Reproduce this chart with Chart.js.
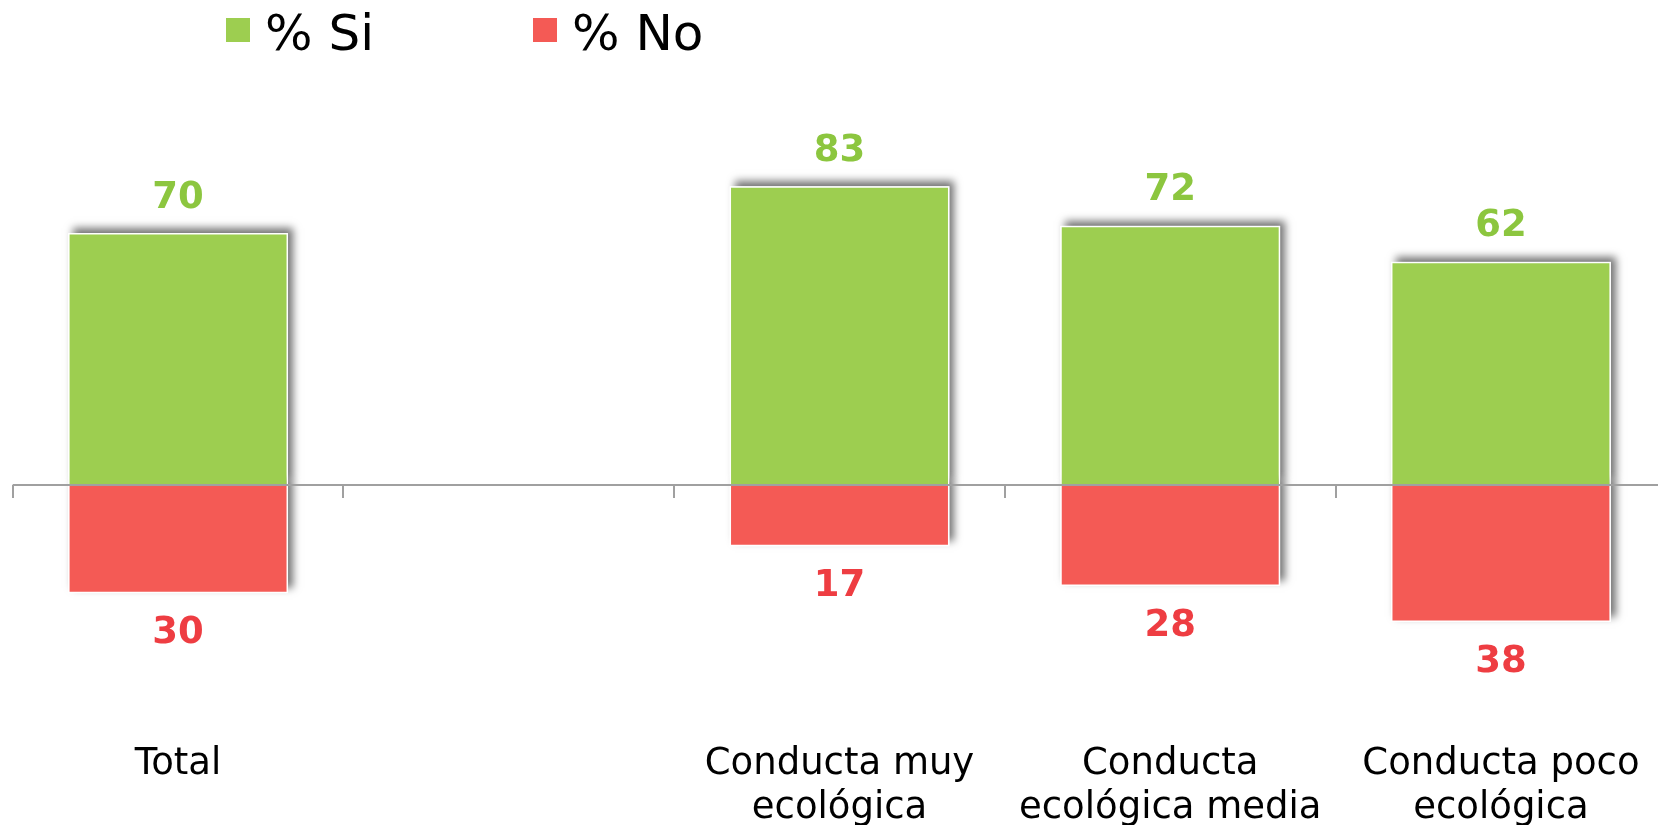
<!DOCTYPE html>
<html>
<head>
<meta charset="utf-8">
<title>Conducta ecológica</title>
<script src="https://cdn.jsdelivr.net/npm/chart.js@4.4.1/dist/chart.umd.min.js"></script>
<style>
  html, body { margin: 0; padding: 0; background: #fff; overflow: hidden; }
  #wrap { position: relative; width: 1658px; height: 825px; overflow: hidden; }
  #chart { position: absolute; left: 0; top: 0; }
  .legend-item { position: absolute; top: 4px; height: 58px; line-height: 58px;
    font-family: 'DejaVu Sans', Verdana, sans-serif; font-size: 50px; color: #000; white-space: nowrap; }
  .legend-box { position: absolute; left: 0; top: 14px; width: 24px; height: 24px; }
  .legend-text { position: absolute; left: 39px; top: 0; }
</style>
</head>
<body>
<div id="wrap">
  <canvas id="chart" width="1700" height="905"></canvas>
</div>
<script>
// categories and values (%)
const categories = ['Total', '', ['Conducta muy', 'ecológica'], ['Conducta', 'ecológica media'], ['Conducta poco', 'ecológica']];
const siValues = [70, null, 83, 72, 62];
const noValues = [30, null, 17, 28, 38];

const seriesNames = ['% Si', '% No'];
const barColors = ['#9dce50', '#f45a55'];
const labelColors = ['#8cc63f', '#ee3d42'];
const legendLeft = [226, 533];

const FONT = "'DejaVu Sans', Verdana, sans-serif";

// legend
const wrap = document.getElementById('wrap');
seriesNames.forEach((name, i) => {
    const item = document.createElement('div');
    item.className = 'legend-item';
    item.style.left = legendLeft[i] + 'px';
    item.innerHTML = '<div class="legend-box" style="background:' + barColors[i] + '"></div>' +
        '<span class="legend-text">' + name + '</span>';
    wrap.appendChild(item);
});

// soft drop shadow behind every bar (up and to the right)
const barShadow = {
    id: 'barShadow',
    beforeDatasetsDraw(chart) {
        const ctx = chart.ctx;
        chart.data.datasets.forEach((ds, i) => {
            chart.getDatasetMeta(i).data.forEach((bar, j) => {
                if (ds.data[j] == null) return;
                const top = Math.min(bar.y, bar.base);
                const h = Math.abs(bar.base - bar.y);
                ctx.save();
                ctx.shadowColor = 'rgba(0,0,0,0.55)';
                ctx.shadowBlur = 8;
                ctx.shadowOffsetX = 5;
                ctx.shadowOffsetY = -5;
                ctx.fillStyle = '#fff';
                ctx.fillRect(bar.x - bar.width / 2, top, bar.width, h);
                ctx.restore();
            });
        });
    }
};

// zero line with tick marks at the category boundaries, plus value labels
const zeroAxis = {
    id: 'zeroAxis',
    afterDatasetsDraw(chart) {
        const ctx = chart.ctx;
        const x = chart.scales.x;
        const y0 = Math.round(chart.scales.y.getPixelForValue(0));
        const step = x.width / categories.length;
        ctx.save();
        ctx.strokeStyle = '#a0a0a0';
        ctx.lineWidth = 2;
        ctx.beginPath();
        ctx.moveTo(x.left, y0);
        ctx.lineTo(x.right + 40, y0);
        for (let i = 0; i <= categories.length; i++) {
            const px = Math.round(x.left + i * step);
            ctx.moveTo(px, y0);
            ctx.lineTo(px, y0 + 13);
        }
        ctx.stroke();

        ctx.font = 'bold 37px ' + FONT;
        ctx.textAlign = 'center';
        ctx.textBaseline = 'middle';
        const values = [siValues, noValues];
        chart.data.datasets.forEach((ds, i) => {
            ctx.fillStyle = labelColors[i];
            chart.getDatasetMeta(i).data.forEach((bar, j) => {
                if (values[i][j] == null) return;
                const ly = i === 0 ? bar.y - 35 : bar.y + 40;
                ctx.fillText(String(values[i][j]), bar.x, ly);
            });
        });
        ctx.restore();
    }
};

new Chart(document.getElementById('chart'), {
    type: 'bar',
    data: {
        labels: categories,
        datasets: [
            {
                label: seriesNames[0],
                data: siValues,
                backgroundColor: barColors[0],
                borderColor: '#ffffff',
                borderWidth: 1.5,
                order: 0
            },
            {
                label: seriesNames[1],
                data: noValues.map(v => v == null ? null : -v),
                backgroundColor: barColors[1],
                borderColor: '#ffffff',
                borderWidth: 1.5,
                order: 1
            }
        ]
    },
    options: {
        responsive: false,
        devicePixelRatio: 1,
        animation: false,
        layout: { padding: { left: 12.7, right: 33.7, top: 125, bottom: 33.2 } },
        datasets: { bar: { categoryPercentage: 0.665, barPercentage: 1 } },
        plugins: { legend: { display: false }, tooltip: { enabled: false } },
        scales: {
            x: {
                stacked: true,
                grid: { display: false, drawTicks: false },
                border: { display: false },
                ticks: {
                    color: '#000',
                    padding: 42,
                    font: { family: FONT, size: 37, lineHeight: 1.17 },
                    maxRotation: 0,
                    autoSkip: false
                }
            },
            y: {
                stacked: true,
                display: false,
                min: -60,
                max: 100
            }
        }
    },
    plugins: [barShadow, zeroAxis]
});
</script>
</body>
</html>
